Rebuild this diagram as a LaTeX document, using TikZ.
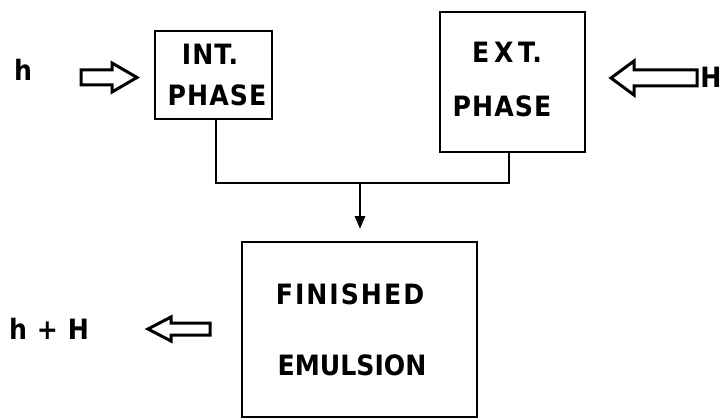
\documentclass[tikz,border=0pt]{standalone}
\usepackage{fontspec}
\newfontfamily\lblfont[LetterSpace=4]{DejaVu Sans Condensed}
\newfontfamily\lblfontn[LetterSpace=0]{DejaVu Sans Condensed}
\usetikzlibrary{arrows.meta}
\begin{document}
\begin{tikzpicture}[x=1pt,y=-1pt,
  box/.style={draw,line width=2.8pt,inner sep=0pt},
  lbl/.style={font=\lblfont\bfseries\fontsize{28}{30}\selectfont,inner sep=0pt},
  lbln/.style={font=\lblfontn\bfseries\fontsize{28}{30}\selectfont,inner sep=0pt},
  conn/.style={line width=2.8pt},
  hollow/.style={draw,line width=3pt,line join=miter,fill=white}]
\useasboundingbox (0,0) rectangle (724,420);
% boxes
\node[box,minimum width=117pt,minimum height=88pt] (int) at (213.5,75) {};
\node[box,minimum width=145pt,minimum height=140pt] (ext) at (512.5,82) {};
\node[box,minimum width=235pt,minimum height=175pt] (fin) at (359.5,329.5) {};
% box texts
\node[lbl] (intA) at (210,54) {INT.};
\node[lbl] (intB) at (217,95) {PHASE};
\node[lbl] (extA) at (507,52) {E\,X\,T.};
\node[lbl] (extB) at (502,106) {PHASE};
\node[lbl] (finA) at (350,294) {F\kern2ptI\kern2ptN\kern2ptI\kern2ptS\kern2ptH\kern2ptE\kern2ptD};
\node[lbln] (finB) at (352,365) {EMULSION};
% outer labels
\node[lbl] (h) at (23,70) {h};
\node[lbl] (H) at (711,77) {H};
\node[lbl] (hH) at (49,329) {h + H};
% connectors
\coordinate (j1) at (216,183);
\coordinate (j2) at (509,183);
\coordinate (jm) at (360,183);
\coordinate (tip) at (360,229);
\draw[conn] (int.south -| j1) -- (j1) -- (j2) -- (ext.south -| j2);
\draw[conn,-{Triangle[length=13pt,width=10pt]}] (jm) -- (tip);
% hollow arrows
\draw[hollow] (81,70) -- (112,70) -- (112,63) -- (137,77.5) -- (112,92) -- (112,85) -- (81,85) -- cycle;
\draw[hollow] (697,70) -- (634,70) -- (634,61) -- (611,78) -- (634,95) -- (634,86) -- (697,86) -- cycle;
\draw[hollow] (210,323) -- (171,323) -- (171,317) -- (148,329) -- (171,341) -- (171,335) -- (210,335) -- cycle;
\end{tikzpicture}
\end{document}
